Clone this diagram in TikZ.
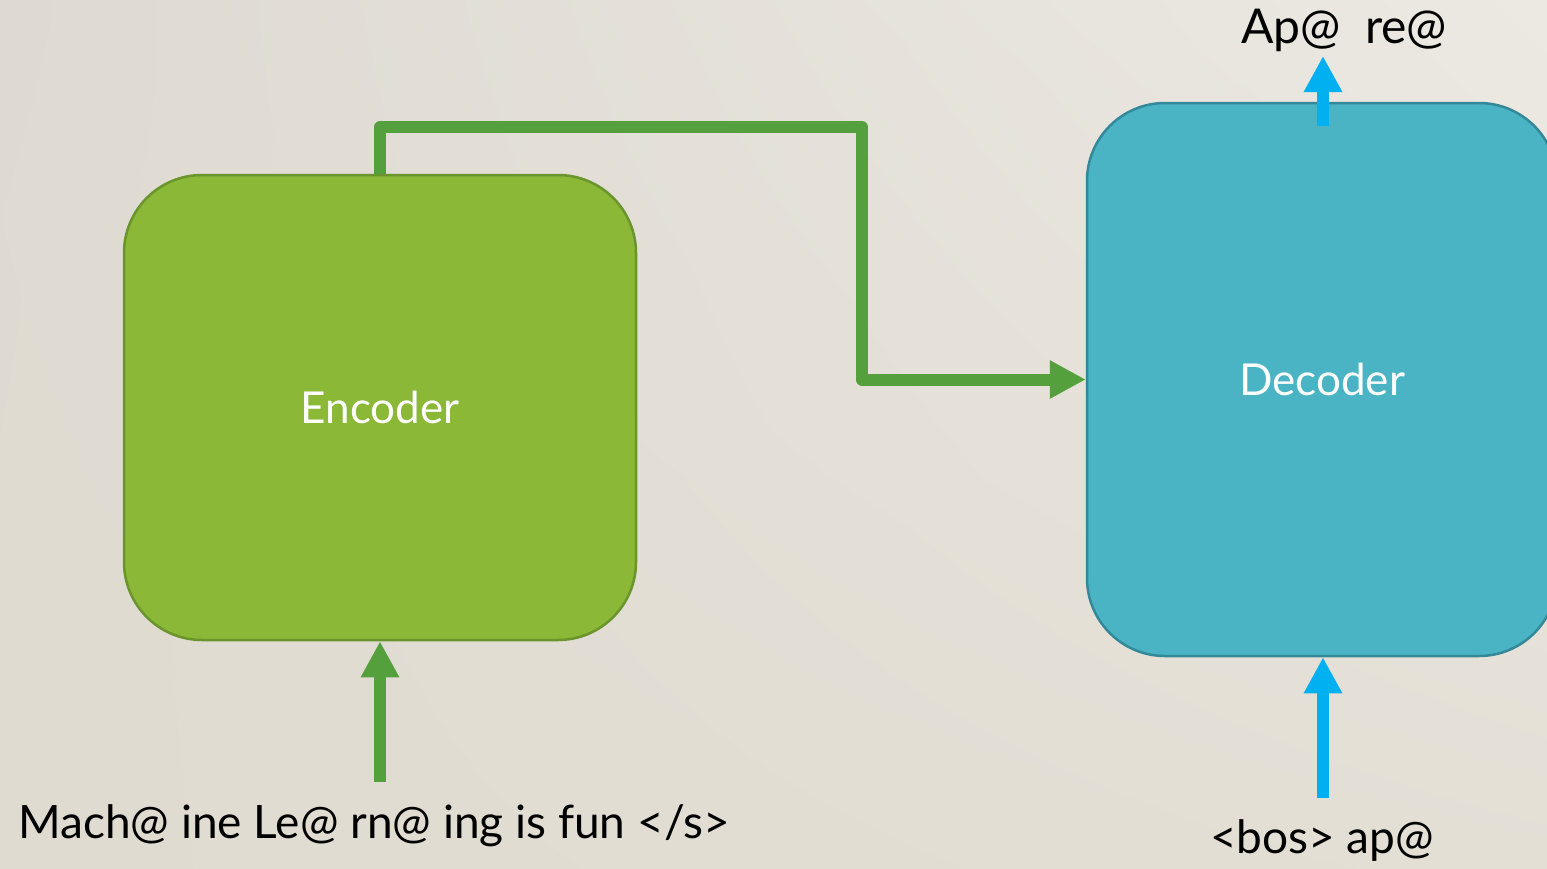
\documentclass[tikz,border=0pt]{standalone}
\usepackage{fontspec}
\setmainfont{Lato}
\usetikzlibrary{arrows.meta,shadings}
\definecolor{encfill}{HTML}{8BB836}
\definecolor{encline}{HTML}{6A942C}
\definecolor{decfill}{HTML}{4AB4C4}
\definecolor{decline}{HTML}{33899A}
\definecolor{garrowc}{HTML}{54A03C}
\definecolor{barrowc}{HTML}{00B0F0}
\definecolor{bgul}{RGB}{222,218,210}
\definecolor{bgur}{RGB}{236,233,227}
\definecolor{bgll}{RGB}{224,219,208}
\definecolor{bglr}{RGB}{228,223,213}
\tikzset{
  box/.style={rounded corners=78pt, line width=2.5pt, text=white, font=\fontsize{44}{50}\selectfont, inner sep=0pt},
  encbox/.style={box, fill=encfill, draw=encline},
  decbox/.style={box, fill=decfill, draw=decline},
  garrow/.style={draw=garrowc, line width=12pt, line join=round, -{Triangle[length=36pt,width=36pt]}},
  barrow/.style={draw=barrowc, line width=12pt, -{Triangle[length=36pt,width=36pt]}},
  lbl/.style={font=\fontsize{46}{52}\selectfont, inner sep=0pt, text=black}
}
\begin{document}
\begin{tikzpicture}[x=1pt,y=-1pt]
\useasboundingbox (0,0) rectangle (1547,868);
\clip (0,0) rectangle (1547,868);
\shade[upper left=bgul, upper right=bgur, lower left=bgll, lower right=bglr]
  (0,0) rectangle (1547,868);
\node[encbox, minimum width=512pt, minimum height=465pt] (enc) at (380,407.5) {Encoder};
\node[decbox, minimum width=470pt, minimum height=553pt] (dec) at (1322,379.5) {Decoder};
\coordinate (c1) at (862,127);
\draw[garrow] (enc.north) |- (c1) |- (dec.west);
\coordinate (encin) at (380,782);
\draw[garrow] (encin) -- (enc.south);
\coordinate (decin) at (1323,798);
\draw[barrow] (decin) -- (dec.south -| decin);
\coordinate (decout) at (1323,56);
\draw[barrow] ([yshift=-24pt]dec.north -| decout) -- (decout);
\node[lbl, anchor=base west] (src) at (18,838) {Mach@ ine Le@ rn@ ing is fun </s>};
\node[lbl, anchor=base] (tin) at (1322,853) {<bos> ap@};
\node[lbl, anchor=base, font=\fontsize{48}{54}\selectfont] (tout) at (1344,43) {Ap@\ \ re@};
\end{tikzpicture}
\end{document}
